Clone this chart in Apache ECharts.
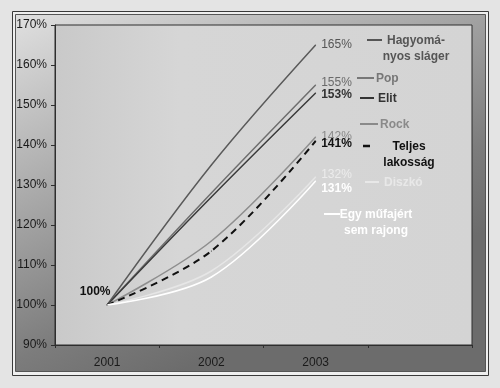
<!DOCTYPE html>
<html>
<head>
<meta charset="utf-8">
<script src="https://cdn.jsdelivr.net/npm/echarts@6/dist/echarts.min.js"></script>
<style>
html,body{margin:0;padding:0;background:#e4e4e4;}
#c{width:500px;height:388px;}
</style>
</head>
<body>
<div id="c"></div>
<script>
// ---- data ----
var years = ['2001', '2002', '2003', ''];
var yTicks = [90, 100, 110, 120, 130, 140, 150, 160, 170];
var seriesNames = ['Hagyományos sláger', 'Pop', 'Elit', 'Rock', 'Teljes lakosság', 'Diszkó', 'Egy műfajért sem rajong'];
var hagyomanyos = [100, 135, 165];
var pop = [100, 128, 155];
var elit = [100, 127, 153];
var rock = [100, 116, 142];
var teljes = [100, 113.5, 141];
var diszko = [100, 108.5, 132];
var egy = [100, 107, 131];
var legendLines = ['Hagyomá-\nnyos sláger', 'Pop', 'Elit', 'Rock', 'Teljes\nlakosság', 'Diszkó', 'Egy műfajért\nsem rajong'];

var FONT = '"Liberation Sans", Arial, sans-serif';
var chart = echarts.init(document.getElementById('c'), null, {renderer: 'canvas'});

function mk(name, data, color, width, type, lblColor, bold, lblOff) {
  var last = data.length - 1;
  return {
    name: name, type: 'line', data: data, smooth: 0.35, symbol: 'circle', symbolSize: 1, showSymbol: true,
    lineStyle: {color: color, width: width, type: type},
    itemStyle: {color: color},
    label: {show: true, position: 'right', distance: 5, offset: lblOff,
      formatter: function (p) {
        if (p.dataIndex === last) return p.value + '%';
        return '';
      },
      color: lblColor, fontFamily: FONT, fontSize: 12, fontWeight: bold ? 'bold' : 'normal'},
    emphasis: {disabled: true}, animation: false
  };
}

var series = [
  mk(seriesNames[0], hagyomanyos, '#5a5a5a', 1.5, 'solid', '#555', false, [0, 0]),
  mk(seriesNames[1], pop, '#6e6e6e', 1.5, 'solid', '#6a6a6a', false, [0, -2]),
  mk(seriesNames[2], elit, '#3a3a3a', 1.5, 'solid', '#333', true, [0, 2]),
  mk(seriesNames[3], rock, '#8e8e8e', 1.5, 'solid', '#8a8a8a', false, [0, 0]),
  mk(seriesNames[4], teljes, '#111111', 2, [7, 5], '#111', true, [0, 3]),
  mk(seriesNames[5], diszko, '#e6e6e6', 1.5, 'solid', '#ececec', false, [0, -2]),
  mk(seriesNames[6], egy, '#ffffff', 1.5, 'solid', '#ffffff', true, [0, 8])
];
// 100% start label on the total series
series[4].data = teljes.map(function (v, i) {
  if (i === 0) {
    return {value: v, label: {position: 'top', distance: 5, offset: [-12, -2]}};
  }
  return v;
});
series[4].label.formatter = function (p) {
  if (p.dataIndex === 0 || p.dataIndex === teljes.length - 1) return p.value + '%';
  return '';
};

// legend graphics
var legColors = ['#555', '#777', '#333', '#8a8a8a', '#111', '#e8e8e8', '#ffffff'];
var legPos = [
  {x1: 367, x2: 382, y: 40, tx: 416, ty: 40, align: 'center'},
  {x1: 357, x2: 374, y: 78, tx: 376, ty: 78, align: 'left'},
  {x1: 360, x2: 374, y: 98, tx: 378, ty: 98, align: 'left'},
  {x1: 360, x2: 378, y: 124, tx: 380, ty: 124, align: 'left'},
  {x1: 363, x2: 370, y: 146, tx: 409, ty: 146, align: 'center'},
  {x1: 365, x2: 379, y: 182, tx: 384, ty: 182, align: 'left'},
  {x1: 324, x2: 340, y: 214, tx: 376, ty: 214, align: 'center'}
];
var graphics = [
  {type: 'rect', z: -20, shape: {x: 12.5, y: 11.5, width: 476, height: 364}, style: {fill: '#efefef', stroke: '#3a3a3a', lineWidth: 1}},
  {type: 'rect', z: -19, shape: {x: 15.5, y: 14.5, width: 470, height: 357},
    style: {fill: new echarts.graphic.LinearGradient(0, 0, 0.35, 1, [
      {offset: 0, color: '#e0e0e0'}, {offset: 0.45, color: '#a8a8a8'}, {offset: 0.8, color: '#7c7c7c'}, {offset: 1, color: '#6c6c6c'}]),
      stroke: '#555', lineWidth: 1}}
];
legendLines.forEach(function (t, i) {
  var p = legPos[i];
  graphics.push({type: 'line', z: 100, shape: {x1: p.x1, y1: p.y, x2: p.x2, y2: p.y},
    style: {stroke: legColors[i], lineWidth: i === 4 ? 2.5 : 2}});
  graphics.push({type: 'text', z: 100, x: p.tx, y: p.ty - 7,
    style: {text: t, fill: legColors[i], font: 'bold 12px ' + FONT, textAlign: p.align, textVerticalAlign: 'top', lineHeight: 16}});
});

chart.setOption({
  animation: false,
  grid: {left: 55, top: 25, right: 28, bottom: 43, show: true, borderColor: '#2e2e2e', borderWidth: 1,
    backgroundColor: new echarts.graphic.LinearGradient(0, 0, 1, 0, [
      {offset: 0, color: '#c9c9c9'}, {offset: 0.3, color: '#d6d6d6'}, {offset: 1, color: '#d4d4d4'}])},
  xAxis: {type: 'category', data: years, boundaryGap: true,
    axisLine: {lineStyle: {color: '#2e2e2e', width: 1}},
    axisTick: {show: true, length: 3, lineStyle: {color: '#2e2e2e'}},
    axisLabel: {color: '#1a1a1a', fontFamily: FONT, fontSize: 12, margin: 12},
    splitLine: {show: false}},
  yAxis: {type: 'value', min: yTicks[0], max: yTicks[yTicks.length - 1], interval: 10,
    axisLine: {show: true, lineStyle: {color: '#2e2e2e', width: 1}},
    axisTick: {show: true, length: 4, lineStyle: {color: '#2e2e2e'}},
    axisLabel: {color: '#1a1a1a', fontFamily: FONT, fontSize: 12, margin: 8, formatter: '{value}%'},
    splitLine: {show: false}},
  graphic: graphics,
  series: series
});
</script>
</body>
</html>
